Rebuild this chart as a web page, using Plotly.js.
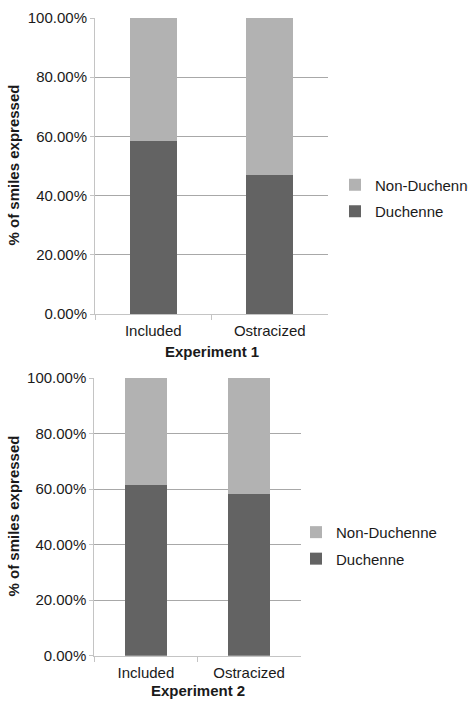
<!DOCTYPE html>
<html>
<head>
<meta charset="utf-8">
<script src="https://cdn.plot.ly/plotly-3.0.1.min.js"></script>
<style>html,body{margin:0;padding:0;background:#fff;}#chart{width:468px;height:714px;}</style>
</head>
<body>
<div id="chart"></div>
<script>
const categories = ['Included', 'Ostracized'];
const exp1Duchenne = [0.584, 0.471];
const exp1NonDuchenne = [0.416, 0.529];
const exp2Duchenne = [0.614, 0.582];
const exp2NonDuchenne = [0.386, 0.418];
const seriesNames = ['Duchenne', 'Non-Duchenne'];
const expTitles = ['Experiment 1', 'Experiment 2'];
const yTitle = '% of smiles expressed';

const dark = '#636363', light = '#b2b2b2';
const W = 468, H = 714;
const px = v => v / W, py = v => 1 - v / H;

const traces = [
  {type:'bar', x:categories, y:exp1Duchenne, name:seriesNames[0], legendgroup:'d1', legendrank:2, marker:{color:dark}, xaxis:'x', yaxis:'y', legend:'legend', width:0.4},
  {type:'bar', x:categories, y:exp1NonDuchenne, name:seriesNames[1], legendgroup:'n1', legendrank:1, marker:{color:light}, xaxis:'x', yaxis:'y', legend:'legend', width:0.4},
  {type:'bar', x:categories, y:exp2Duchenne, name:seriesNames[0], legendgroup:'d2', legendrank:2, marker:{color:dark}, xaxis:'x2', yaxis:'y2', legend:'legend2', width:0.4},
  {type:'bar', x:categories, y:exp2NonDuchenne, name:seriesNames[1], legendgroup:'n2', legendrank:1, marker:{color:light}, xaxis:'x2', yaxis:'y2', legend:'legend2', width:0.4}
];

const font = {family:'"Liberation Sans", Arial, sans-serif', size:15, color:'#1a1a1a'};
const xCommon = {type:'category', showline:true, linecolor:'#c4c4c4', linewidth:1, ticks:'outside', ticklen:5, tickcolor:'#c4c4c4', tickson:'boundaries', ticklabelstandoff:3, showgrid:false, automargin:false, tickfont:font, fixedrange:true};
const yCommon = {range:[0,1], dtick:0.2, tickformat:'.2%', showline:true, linecolor:'#c4c4c4', linewidth:1, ticks:'outside', ticklen:4, tickcolor:'#c4c4c4', gridcolor:'#a8a8a8', gridwidth:1, zeroline:false, automargin:false, tickfont:font, fixedrange:true};

const legendCommon = {xanchor:'left', yanchor:'middle', traceorder:'grouped', tracegroupgap:4, font:font, bgcolor:'rgba(0,0,0,0)'};

const layout = {
  width:W, height:H,
  margin:{l:0, r:0, t:0, b:0, autoexpand:false},
  paper_bgcolor:'#fff', plot_bgcolor:'#fff',
  barmode:'stack',
  font:font,
  xaxis: Object.assign({}, xCommon, {domain:[px(95), px(328)], anchor:'y'}),
  yaxis: Object.assign({}, yCommon, {domain:[py(314), py(18)], anchor:'x'}),
  xaxis2: Object.assign({}, xCommon, {domain:[px(94.3), px(300.7)], anchor:'y2'}),
  yaxis2: Object.assign({}, yCommon, {domain:[py(655.7), py(378)], anchor:'x2'}),
  legend: Object.assign({}, legendCommon, {x:px(335), y:py(198)}),
  legend2: Object.assign({}, legendCommon, {x:px(296), y:py(545.4)}),
  annotations: [
    {text:'<b>'+expTitles[0]+'</b>', xref:'paper', yref:'paper', x:px(211.5), y:py(351), xanchor:'center', yanchor:'middle', showarrow:false, font:Object.assign({}, font, {size:15})},
    {text:'<b>'+expTitles[1]+'</b>', xref:'paper', yref:'paper', x:px(197.5), y:py(690.7), xanchor:'center', yanchor:'middle', showarrow:false, font:Object.assign({}, font, {size:15})},
    {text:'<b>'+yTitle+'</b>', xref:'paper', yref:'paper', x:px(13), y:py(165.5), xanchor:'center', yanchor:'middle', textangle:-90, showarrow:false, font:Object.assign({}, font, {size:15})},
    {text:'<b>'+yTitle+'</b>', xref:'paper', yref:'paper', x:px(13), y:py(516.5), xanchor:'center', yanchor:'middle', textangle:-90, showarrow:false, font:Object.assign({}, font, {size:15})}
  ]
};

Plotly.newPlot('chart', traces, layout, {displayModeBar:false, staticPlot:true});
</script>
</body>
</html>
